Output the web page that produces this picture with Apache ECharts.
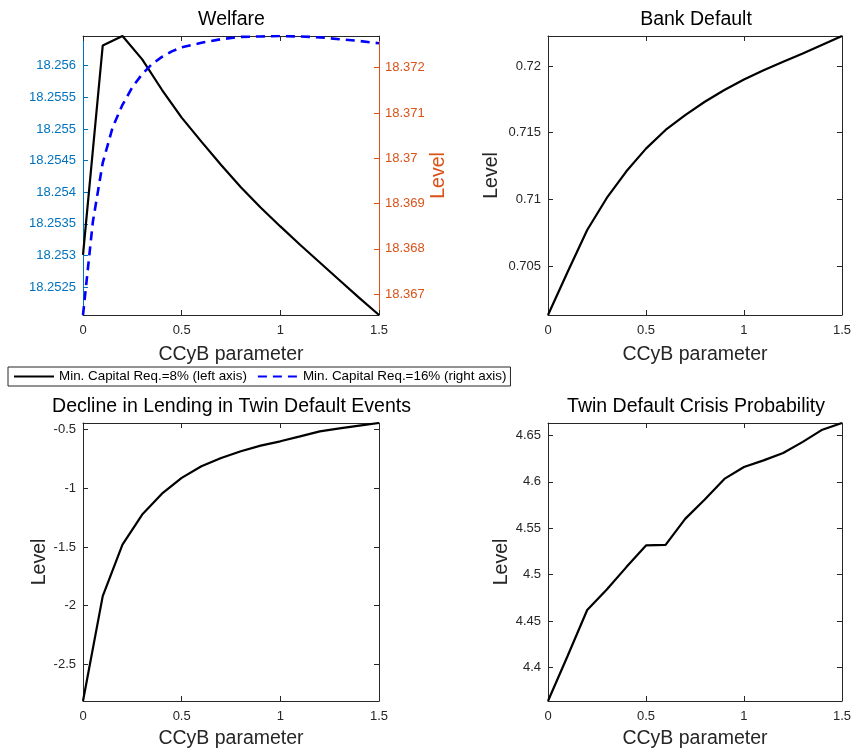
<!DOCTYPE html>
<html>
<head>
<meta charset="utf-8">
<script src="https://cdn.jsdelivr.net/npm/echarts@6/dist/echarts.min.js"></script>
<style>
  html, body { margin: 0; padding: 0; background: #ffffff; }
  #chart { width: 854px; height: 750px; }
</style>
</head>
<body>
<div id="chart"></div>
<script>
// CCyB parameter grid
const ccyb = [0, 0.1, 0.2, 0.3, 0.4, 0.5, 0.6, 0.7, 0.8, 0.9, 1.0, 1.1, 1.2, 1.3, 1.4, 1.5];
// finer grid used by the 16% welfare curve
const ccybFine = [0, 0.05, 0.1, 0.15, 0.2, 0.25, 0.3, 0.35, 0.4, 0.45, 0.5, 0.6, 0.7, 0.8, 0.9, 1.0, 1.1, 1.2, 1.3, 1.4, 1.5];

// Welfare, minimum capital requirement 8% (left axis)
const welfareCap8 = [18.25301, 18.25632, 18.25647, 18.25610, 18.25562, 18.25518, 18.25480, 18.25443,
                     18.25408, 18.25376, 18.25346, 18.25317, 18.25289, 18.25261, 18.25233, 18.25206];
// Welfare, minimum capital requirement 16% (right axis)
const welfareCap16 = [18.36654, 18.36860, 18.36990, 18.37068, 18.37118, 18.37157, 18.37186, 18.37208,
                      18.37224, 18.37236, 18.37245, 18.37255, 18.37263, 18.37268, 18.37269, 18.37270,
                      18.37269, 18.37267, 18.37263, 18.37259, 18.37254];
const bankDefault = [0.70132, 0.70455, 0.70770, 0.71010, 0.71210, 0.71380, 0.71520, 0.71632,
                     0.71732, 0.71820, 0.71898, 0.71968, 0.72031, 0.72093, 0.72159, 0.72225];
const lendingDecline = [-2.812, -1.918, -1.479, -1.223, -1.045, -0.911, -0.812, -0.741,
                        -0.684, -0.636, -0.599, -0.557, -0.514, -0.489, -0.466, -0.443];
const twinCrisisProb = [4.3641, 4.4125, 4.4620, 4.4842, 4.5082, 4.5315, 4.5322, 4.5601,
                        4.5809, 4.6031, 4.6160, 4.6231, 4.6311, 4.6430, 4.6561, 4.6633];

// tick values
const xTicks = [0, 0.5, 1, 1.5];
const welfareLeftTicks = [18.2525, 18.253, 18.2535, 18.254, 18.2545, 18.255, 18.2555, 18.256];
const welfareRightTicks = [18.367, 18.368, 18.369, 18.37, 18.371, 18.372];
const bankDefaultTicks = [0.705, 0.71, 0.715, 0.72];
const lendingTicks = [-2.5, -2, -1.5, -1, -0.5];
const twinTicks = [4.4, 4.45, 4.5, 4.55, 4.6, 4.65];

const legendCap8 = 'Min. Capital Req.=8% (left axis)';
const legendCap16 = 'Min. Capital Req.=16% (right axis)';

const FONT = '"Liberation Sans", Arial, Helvetica, sans-serif';
const AXIS = '#262626';
const BLUE_AX = '#0072BD';
const ORANGE_AX = '#D95319';

const pairs = (xs, ys) => xs.map((x, i) => [x, ys[i]]);

const grids = [
  { left: 83, top: 36, width: 296, height: 279 },
  { left: 548, top: 36, width: 296, height: 279 },
  { left: 83, top: 423, width: 296, height: 279 },
  { left: 548, top: 423, width: 296, height: 279 }
];

const xAxes = [];
const yAxes = [];

function addX(gridIndex, nameGap) {
  xAxes.push({
    type: 'value', gridIndex, position: 'bottom', min: 0, max: 1.5,
    name: 'CCyB parameter', nameLocation: 'middle', nameGap,
    nameTextStyle: { fontFamily: FONT, fontSize: 19.5, color: AXIS },
    axisLine: { show: true, onZero: false, lineStyle: { color: AXIS, width: 1 } },
    axisTick: { show: true, inside: true, length: 5, customValues: xTicks, lineStyle: { color: AXIS } },
    axisLabel: { show: true, customValues: xTicks, margin: 9, fontFamily: FONT, fontSize: 13, color: AXIS,
                 showMinLabel: true, showMaxLabel: true },
    splitLine: { show: false }
  });
  xAxes.push({
    type: 'value', gridIndex, position: 'top', min: 0, max: 1.5,
    axisLine: { show: true, onZero: false, lineStyle: { color: AXIS, width: 1 } },
    axisTick: { show: true, inside: true, length: 5, customValues: xTicks, lineStyle: { color: AXIS } },
    axisLabel: { show: false },
    splitLine: { show: false }
  });
}

function yAxis(gridIndex, position, values, ticks, color, showLabels, name, nameGap, margin) {
  return {
    type: 'value', gridIndex, position,
    min: Math.min(...values), max: Math.max(...values),
    name: name || '', nameLocation: 'middle', nameGap: nameGap || 0, nameRotate: 90,
    nameTextStyle: { fontFamily: FONT, fontSize: 19.5, color },
    axisLine: { show: true, onZero: false, lineStyle: { color, width: 1 } },
    axisTick: { show: true, inside: true, length: 5, customValues: ticks, lineStyle: { color } },
    axisLabel: { show: showLabels, customValues: ticks, margin: margin || 7, fontFamily: FONT, fontSize: 13, color },
    splitLine: { show: false }
  };
}

// Welfare panel
addX(0, 30);
yAxes.push(yAxis(0, 'left', welfareCap8, welfareLeftTicks, BLUE_AX, true));
yAxes.push(yAxis(0, 'right', welfareCap16, welfareRightTicks, ORANGE_AX, true, 'Level', 47, 6));
// Bank default panel
addX(1, 30);
yAxes.push(yAxis(1, 'left', bankDefault, bankDefaultTicks, AXIS, true, 'Level', 46));
yAxes.push(yAxis(1, 'right', bankDefault, bankDefaultTicks, AXIS, false));
// Lending decline panel
addX(2, 28);
yAxes.push(yAxis(2, 'left', lendingDecline, lendingTicks, AXIS, true, 'Level', 33));
yAxes.push(yAxis(2, 'right', lendingDecline, lendingTicks, AXIS, false));
// Twin default probability panel
addX(3, 28);
yAxes.push(yAxis(3, 'left', twinCrisisProb, twinTicks, AXIS, true, 'Level', 35));
yAxes.push(yAxis(3, 'right', twinCrisisProb, twinTicks, AXIS, false));

const solid = { color: '#000000', width: 2.2, type: 'solid' };

const series = [
  { name: legendCap8, type: 'line', xAxisIndex: 0, yAxisIndex: 0, data: pairs(ccyb, welfareCap8),
    symbol: 'none', lineStyle: solid, itemStyle: { color: '#000000' }, z: 3 },
  { name: legendCap16, type: 'line', xAxisIndex: 0, yAxisIndex: 1, data: pairs(ccybFine, welfareCap16),
    symbol: 'none', smooth: false,
    lineStyle: { color: '#0000FF', width: 2.6, type: [9, 6] }, itemStyle: { color: '#0000FF' }, z: 4 },
  { name: 'Bank Default', type: 'line', xAxisIndex: 2, yAxisIndex: 2, data: pairs(ccyb, bankDefault),
    symbol: 'none', lineStyle: solid, itemStyle: { color: '#000000' } },
  { name: 'Decline in Lending', type: 'line', xAxisIndex: 4, yAxisIndex: 4, data: pairs(ccyb, lendingDecline),
    symbol: 'none', lineStyle: solid, itemStyle: { color: '#000000' } },
  { name: 'Twin Default Crisis Probability', type: 'line', xAxisIndex: 6, yAxisIndex: 6, data: pairs(ccyb, twinCrisisProb),
    symbol: 'none', lineStyle: solid, itemStyle: { color: '#000000' } }
];

const titleStyle = { fontFamily: FONT, fontSize: 19.5, fontWeight: 'normal', color: '#000000' };
const titles = [
  { text: 'Welfare', left: 231.5, top: 20 },
  { text: 'Bank Default', left: 696, top: 20 },
  { text: 'Decline in Lending in Twin Default Events', left: 231.5, top: 407 },
  { text: 'Twin Default Crisis Probability', left: 696, top: 407 }
].map(t => Object.assign({ textAlign: 'center', textVerticalAlign: 'middle', padding: 0, textStyle: titleStyle }, t));

const chart = echarts.init(document.getElementById('chart'), null, { renderer: 'canvas' });
chart.setOption({
  backgroundColor: '#ffffff',
  animation: false,
  title: titles,
  legend: {
    data: [legendCap8, legendCap16],
    left: 8, top: 367, orient: 'horizontal',
    padding: [3, 4, 3, 5], itemGap: 10, itemWidth: 40, itemHeight: 10,
    borderColor: AXIS, borderWidth: 1, backgroundColor: '#ffffff',
    itemStyle: { opacity: 0 },
    textStyle: { fontFamily: FONT, fontSize: 13.4, color: '#000000' },
    selectedMode: false
  },
  grid: grids,
  xAxis: xAxes,
  yAxis: yAxes,
  series
});
</script>
</body>
</html>
